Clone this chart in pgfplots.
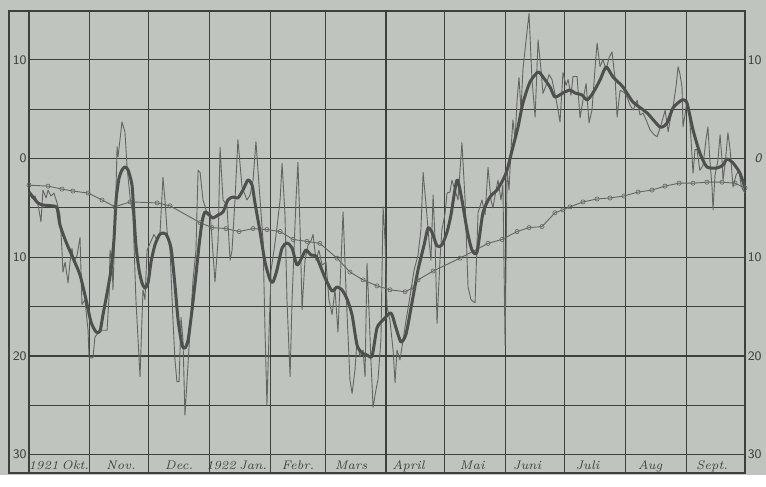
\documentclass[border=0pt]{standalone}
\usepackage{pgfplots}
\pgfplotsset{compat=1.18}
\definecolor{paper}{RGB}{191,196,190}
\definecolor{gridc}{RGB}{62,64,62}
\definecolor{thickc}{RGB}{78,80,78}
\definecolor{thinc}{RGB}{98,101,98}
\begin{document}
\begin{tikzpicture}[x=1pt,y=1pt]
\fill[paper] (0,0) rectangle (383,237.5);
\begin{axis}[at={(4.5pt,1pt)}, anchor=south west, scale only axis,
  width=368pt, height=231pt,
  xmin=-10.2, xmax=365, ymin=-31.86, ymax=14.94,
  xtick={0,31,61,92,123,151,182,212,243,273,304,335},
  xticklabels={}, ytick=\empty,
  major tick length=0pt, xmajorgrids,
  grid style={gridc, line width=0.6pt},
  axis line style={gridc, line width=0.7pt},
  clip=false]
\pgfplotsinvokeforeach{-30,-25,-20,-15,-10,-5,0,5,10}{
  \draw[gridc, line width=0.6pt] (axis cs:0,#1) -- (axis cs:365,#1);
}
% daily values
\addplot[thinc, line width=0.45pt, line join=round, no markers] coordinates {
(0.0,-3.5)(1.5,-4.0)(3.1,-3.8)(4.6,-4.7)(6.1,-6.4)(7.1,-3.2)(8.7,-4.0)(9.7,-3.2)(11.2,-3.8)(12.7,-3.5)
(14.3,-4.5)(15.8,-5.7)(16.8,-9.3)(17.3,-11.5)(18.4,-10.5)(19.9,-12.6)(20.9,-10.5)(21.9,-9.1)(22.9,-10.5)(24.5,-9.8)
(26.0,-8.0)(27.0,-14.8)(28.5,-14.3)(30.1,-17.4)(30.6,-20.2)(32.6,-20.2)(33.6,-18.1)(36.2,-17.4)(39.8,-17.4)(40.8,-14.0)
(41.3,-9.3)(42.3,-10.5)(42.8,-13.3)(43.8,-7.2)(44.9,1.2)(45.4,0.2)(47.4,3.7)(48.9,2.7)(50.0,-0.9)(51.5,-3.9)
(53.0,-5.7)(54.5,-14.3)(56.6,-22.1)(58.1,-13.3)(59.1,-14.3)(60.2,-9.3)(61.7,-8.6)(63.7,-7.7)(65.3,-8.3)(66.8,-7.5)
(68.3,-1.9)(69.3,-4.2)(70.4,-7.4)(71.9,-9.3)(73.4,-16.4)(74.4,-20.4)(75.4,-22.6)(76.5,-22.6)(77.5,-16.1)(78.5,-18.4)
(79.5,-26.0)(81.1,-20.7)(82.1,-17.4)(83.6,-12.3)(85.1,-9.3)(86.2,-1.2)(87.2,-1.4)(88.7,-4.2)(90.7,-5.5)(92.3,-5.4)
(93.8,-9.6)(94.8,-12.5)(96.4,-8.3)(97.4,1.1)(98.9,-4.2)(100.9,-4.7)(102.5,-10.3)(103.5,-9.3)(105.0,-4.2)(106.5,1.9)
(108.6,-2.9)(111.1,-4.2)(112.7,-3.7)(114.2,-2.2)(115.7,1.7)(117.8,-4.2)(119.3,-8.3)(120.3,-17.4)(121.3,-25.0)(122.4,-17.4)
(123.4,-11.3)(124.9,-9.3)(126.4,-7.0)(128.0,-4.2)(129.0,-0.5)(130.5,-5.7)(131.5,-14.3)(133.1,-22.1)(134.1,-14.3)(135.1,-9.3)
(136.1,-4.2)(137.1,-0.4)(138.2,-7.2)(139.2,-15.3)(140.7,-10.3)(142.2,-8.8)(143.8,-8.3)(144.8,-7.7)(146.3,-10.3)(147.8,-9.3)
(149.4,-10.8)(151.4,-10.5)(152.9,-14.3)(154.5,-15.8)(156.0,-13.3)(157.5,-17.6)(159.1,-10.3)(160.1,-5.4)(161.6,-13.3)(163.6,-22.4)
(164.7,-23.8)(166.2,-21.4)(167.2,-18.4)(168.7,-20.1)(170.3,-19.4)(171.3,-22.1)(172.3,-10.6)(173.3,-15.3)(174.3,-20.4)(175.4,-25.2)
(176.9,-23.4)(177.9,-22.4)(179.4,-18.4)(180.5,-4.9)(181.5,-8.3)(182.5,-15.0)(184.0,-16.4)(185.6,-19.4)(186.6,-22.7)(187.6,-19.4)
(189.1,-20.4)(190.7,-18.4)(192.2,-16.4)(194.2,-14.0)(196.3,-11.3)(198.3,-9.8)(199.8,-7.2)(200.9,-1.4)(202.4,-4.7)(203.9,-8.3)
(204.9,-10.3)(206.0,-3.7)(207.0,-8.3)(208.0,-16.7)(209.5,-10.3)(210.5,-7.2)(212.0,-5.7)(213.1,-3.5)(214.6,-3.4)(215.6,-2.2)
(217.2,-3.2)(218.7,-4.2)(220.7,1.6)(222.3,-4.2)(223.8,-13.0)(225.3,-14.3)(226.4,-14.5)(227.4,-14.6)(228.9,-5.5)(230.9,-4.2)
(232.5,-5.7)(234.0,-0.9)(235.5,-4.2)(236.5,-5.0)(238.1,-3.2)(239.1,-2.2)(240.6,-4.2)(241.6,-2.7)(242.7,-18.9)(243.7,-1.2)
(244.7,-3.2)(245.7,0.9)(246.7,3.9)(247.8,1.9)(248.8,5.9)(249.8,8.2)(250.8,4.9)(251.8,9.0)(253.4,12.0)(254.9,14.7)
(256.4,8.0)(258.0,4.2)(259.5,12.0)(261.0,9.0)(262.0,6.6)(263.6,7.4)(265.1,8.5)(266.6,8.0)(268.1,6.6)(269.7,4.9)
(270.7,3.7)(272.2,8.7)(273.8,7.4)(274.8,8.0)(276.3,6.4)(277.3,8.3)(279.4,8.3)(280.9,4.1)(282.4,5.9)(284.0,7.6)
(285.5,3.6)(287.0,4.9)(288.5,9.0)(289.6,11.7)(291.1,9.3)(292.6,10.0)(294.2,9.0)(295.7,10.2)(297.2,10.8)(298.8,8.0)
(299.8,4.2)(301.3,6.9)(303.4,6.7)(304.9,6.2)(306.4,5.4)(308.0,4.9)(310.0,5.9)(311.5,4.4)(313.0,4.6)(314.6,3.9)
(316.6,2.9)(318.7,2.4)(320.2,2.2)(322.2,3.4)(324.3,4.9)(325.8,2.7)(327.3,4.4)(328.3,5.2)(329.9,7.4)(330.9,9.3)
(331.9,8.5)(332.9,7.2)(333.4,3.2)(334.4,4.4)(335.4,5.9)(336.5,4.9)(337.5,1.9)(338.5,-1.5)(339.5,0.9)(340.5,0.9)
(342.0,-1.2)(343.6,-0.7)(345.1,1.9)(346.1,3.2)(347.1,-0.2)(348.2,-2.9)(348.7,-5.2)(349.7,-1.7)(351.2,-0.2)(352.3,2.4)
(353.3,-0.2)(353.8,-2.2)(354.8,-0.7)(356.3,2.6)(357.4,0.9)(358.9,-2.9)(360.4,-1.7)(361.9,-1.2)(363.0,-2.7)(364.0,-3.2)
(365.0,-3.5)
};
% normal
\addplot[thinc, line width=0.45pt, mark=o, mark size=1.05pt,
  mark options={fill=paper, line width=0.3pt}] coordinates {
(0,-2.7)(9.7,-2.8)(16.8,-3.1)(22.4,-3.3)(30.1,-3.5)(37.2,-4.2)(43.8,-4.9)(51.5,-4.4)(65.3,-4.5)(71.9,-4.8)
(87.2,-6.5)(93.3,-7.0)(100.4,-7.1)(107.1,-7.4)(114.2,-7.1)(121.3,-7.2)(128.0,-7.4)(134.6,-8.2)(141.7,-8.4)(148.3,-8.6)
(157.0,-10.1)(163.6,-11.5)(170.3,-12.3)(177.4,-12.9)(184.0,-13.3)(191.7,-13.5)(195.8,-13.1)(198.3,-12.3)(206.0,-11.4)(219.7,-10.1)
(234.0,-8.6)(241.1,-8.2)(248.8,-7.4)(254.9,-7.0)(261.5,-6.9)(268.1,-5.5)(272.2,-5.2)(275.8,-4.9)(282.4,-4.4)(289.6,-4.1)
(296.2,-4.0)(303.3,-3.8)(310.5,-3.4)(317.6,-3.2)(324.2,-2.8)(331.4,-2.5)(338.5,-2.5)(345.6,-2.4)(353.3,-2.4)(359.9,-2.5)
(365,-3.0)
};
% smoothed
\addplot[thickc, line width=1.5pt, smooth, tension=0.4, line join=round, no markers] coordinates {
(0.0,-3.39)(2.0,-3.90)(4.6,-4.51)(7.1,-4.71)(12.2,-4.81)(14.3,-5.01)(15.8,-6.74)(18.9,-8.46)(22.4,-10.08)(26.0,-11.80)
(29.1,-14.33)(31.6,-16.56)(34.2,-17.58)(36.2,-17.48)(37.7,-15.86)(39.8,-13.62)(41.8,-11.29)(43.3,-8.26)(44.4,-4.20)(45.9,-1.98)
(47.4,-1.17)(48.9,-0.86)(50.5,-1.17)(52.5,-2.68)(53.5,-5.72)(54.5,-8.76)(56.1,-11.29)(57.6,-12.61)(59.1,-13.12)(60.7,-12.61)
(62.2,-10.48)(64.2,-8.76)(66.8,-7.65)(69.8,-7.65)(72.4,-9.07)(74.4,-12.81)(76.0,-16.36)(78.0,-18.89)(79.5,-19.20)(81.1,-18.39)
(83.1,-15.35)(85.1,-11.80)(86.7,-8.76)(88.2,-6.43)(89.7,-5.42)(91.8,-5.72)(93.8,-6.03)(96.4,-5.72)(98.9,-5.42)(101.4,-4.20)
(104.0,-3.90)(106.5,-4.00)(109.1,-3.19)(111.6,-2.18)(113.7,-2.68)(115.2,-4.51)(117.8,-7.45)(120.3,-10.48)(122.9,-12.31)(124.4,-12.51)
(126.4,-11.29)(129.0,-9.07)(131.5,-8.56)(134.1,-9.07)(136.6,-10.79)(139.2,-9.98)(141.2,-9.27)(143.8,-9.78)(146.3,-9.88)(148.9,-11.09)
(151.4,-12.31)(154.5,-13.42)(157.0,-13.02)(159.6,-13.32)(162.1,-14.23)(164.7,-15.86)(167.2,-18.89)(169.8,-19.70)(172.3,-19.91)(174.9,-20.01)
(177.4,-17.17)(180.5,-16.36)(184.5,-15.65)(187.1,-17.17)(189.6,-18.59)(192.2,-17.78)(195.3,-14.54)(198.3,-11.29)(201.4,-8.76)(203.4,-7.04)
(205.4,-7.45)(208.0,-8.86)(210.5,-8.76)(213.1,-7.45)(215.1,-5.72)(218.2,-2.18)(220.7,-4.20)(223.3,-7.24)(225.8,-9.27)(228.4,-9.47)
(231.4,-5.52)(235.0,-3.90)(238.6,-3.19)(241.6,-2.18)(243.7,-1.17)(246.7,1.17)(249.3,3.19)(251.8,5.62)(255.4,7.75)(259.5,8.76)
(262.0,8.26)(265.6,7.24)(268.1,6.23)(272.2,6.64)(275.8,6.94)(278.3,6.64)(281.9,6.43)(284.5,5.93)(287.5,6.64)(291.1,7.95)
(294.2,9.27)(297.7,8.26)(302.8,7.24)(307.9,5.72)(315.1,4.61)(321.7,3.19)(325.3,3.60)(328.3,5.12)(332.9,5.93)(335.4,5.62)
(338.5,2.89)(342.0,0.56)(345.6,-0.86)(350.7,-0.96)(353.8,-0.66)(355.8,-0.05)(358.9,-0.46)(362.4,-1.47)(365.0,-2.99)
};
% y labels
\begin{scope}[every node/.style={font=\sffamily\fontsize{6.5}{7}\selectfont, text=gridc, inner sep=0pt}]
\node[anchor=east] at (axis cs:-1,10) {10};
\node[anchor=east] at (axis cs:-1,0) {0};
\node[anchor=east] at (axis cs:-1,-10) {10};
\node[anchor=east] at (axis cs:-1,-20) {20};
\node[anchor=east] at (axis cs:-1,-30) {30};
\node[anchor=east,xshift=8.5pt] at (axis cs:365,10) {10};
\node[anchor=east,xshift=8.5pt] at (axis cs:365,0) {\itshape 0};
\node[anchor=east,xshift=8.5pt] at (axis cs:365,-10) {10};
\node[anchor=east,xshift=8.5pt] at (axis cs:365,-20) {20};
\node[anchor=east,xshift=8.5pt] at (axis cs:365,-30) {30};
\end{scope}
% month labels
\begin{scope}[every node/.style={font=\itshape\fontsize{6.2}{7}\selectfont, text=gridc, inner sep=0pt, anchor=base}]
\node at (axis cs:15.2,-31.5) {1921\kern1.6pt Okt.};
\node at (axis cs:46.9,-31.5) {Nov.};
\node at (axis cs:76.5,-31.5) {Dec.};
\node at (axis cs:105.8,-31.5) {1922\kern1.6pt Jan.};
\node at (axis cs:137.1,-31.5) {Febr.};
\node at (axis cs:164.2,-31.5) {Mars};
\node at (axis cs:193.5,-31.5) {April};
\node at (axis cs:225.9,-31.5) {Mai};
\node at (axis cs:253.9,-31.5) {Juni};
\node at (axis cs:284.7,-31.5) {Juli};
\node at (axis cs:316.6,-31.5) {Aug};
\node at (axis cs:348.2,-31.5) {Sept.};
\end{scope}
\end{axis}
\end{tikzpicture}
\end{document}
